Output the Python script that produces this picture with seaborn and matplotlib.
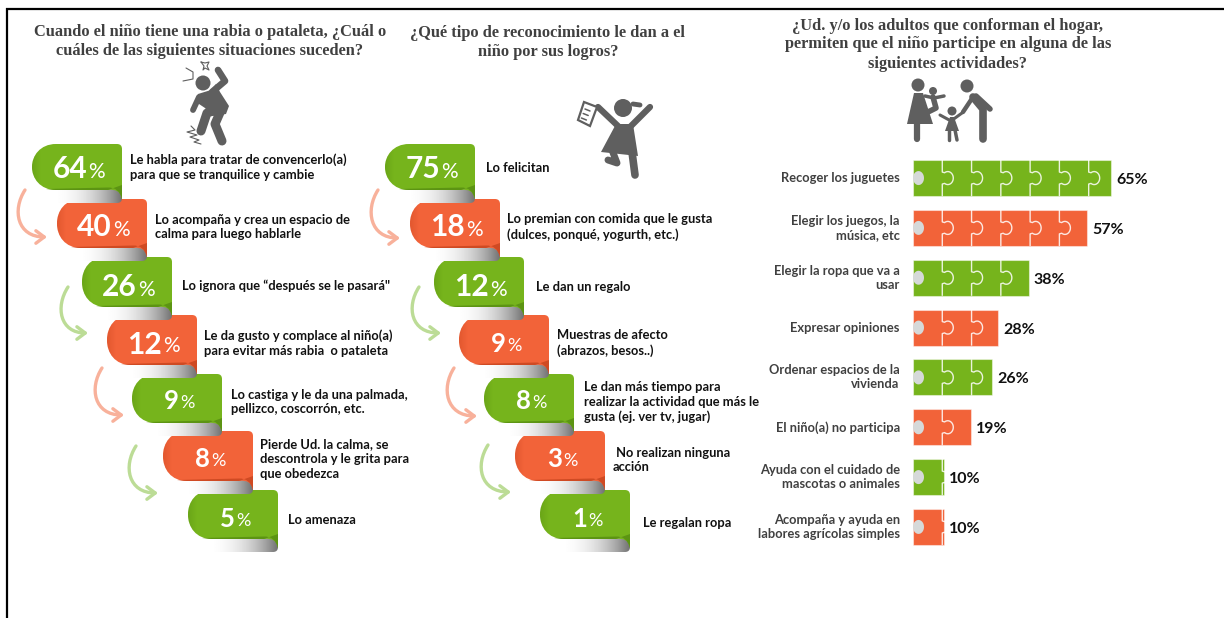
import numpy as np
import pandas as pd
import seaborn as sns
import matplotlib.pyplot as plt
from matplotlib.path import Path
from matplotlib.patches import PathPatch, Circle, Polygon, FancyArrowPatch

GREEN = '#76b41c'
ORANGE = '#f26339'
DARK_GREEN = '#5c9413'
DARK_ORANGE = '#cf4a23'
ICON = '#5f5f5f'

title_1 = 'Cuando el niño tiene una rabia o pataleta, ¿Cuál o\ncuáles de las siguientes situaciones suceden?'
title_2 = '¿Qué tipo de reconocimiento le dan a el\nniño por sus logros?'
title_3 = '¿Ud. y/o los adultos que conforman el hogar,\npermiten que el niño participe en alguna de las\nsiguientes actividades?'

rabia_values = [64, 40, 26, 12, 9, 8, 5]
rabia_labels = ['Le habla para tratar de convencerlo(a)\npara que se tranquilice y cambie',
                'Lo acompaña y crea un espacio de\ncalma para luego hablarle',
                'Lo ignora que “después se le pasará"',
                'Le da gusto y complace al niño(a)\npara evitar más rabia  o pataleta',
                'Lo castiga y le da una palmada,\npellizco, coscorrón, etc.',
                'Pierde Ud. la calma, se\ndescontrola y le grita para\nque obedezca',
                'Lo amenaza']

logros_values = [75, 18, 12, 9, 8, 3, 1]
logros_labels = ['Lo felicitan',
                 'Lo premian con comida que le gusta\n(dulces, ponqué, yogurth, etc.)',
                 'Le dan un regalo',
                 'Muestras de afecto\n(abrazos, besos..)',
                 'Le dan más tiempo para\nrealizar la actividad que más le\ngusta (ej. ver tv, jugar)',
                 ' No realizan ninguna\nacción',
                 'Le regalan ropa']

actividades = ['Recoger los juguetes', 'Elegir los juegos, la\nmúsica, etc', 'Elegir la ropa que va a\nusar',
               'Expresar opiniones', 'Ordenar espacios de la\nvivienda', 'El niño(a) no participa',
               'Ayuda con el cuidado de\nmascotas o animales', 'Acompaña y ayuda en\nlabores agrícolas simples']
actividades_values = [65, 57, 38, 28, 26, 19, 10, 10]

# layout of the stairs, in pixels of the picture
rib_top = [144, 199, 257, 315, 374, 431, 490]
rib_bottom = [190, 248, 307, 365, 423, 481, 539]
rib_num_y = [168, 226, 286, 343, 400, 458, 518]
rib_left_1 = [32, 57, 82, 107, 132, 163, 188]
rib_left_2 = [385, 410, 434, 459, 484, 515, 540]
text_x_1 = [130, 155, 182, 204, 231, 260, 288]
text_y_1 = [167, 227, 286, 343, 402, 459, 520]
text_x_2 = [486, 507, 536, 557, 584, 613, 643]
text_y_2 = [168, 227, 287, 343, 402, 460, 523]
arrows_1 = [(25, 190, 47, 237), (68, 287, 88, 333), (102, 368, 124, 415), (136, 446, 158, 493)]
arrows_2 = [(378, 190, 400, 238), (419, 287, 441, 333), (454, 368, 477, 416), (488, 445, 511, 492)]

sns.set_theme(style='white')
plt.rcParams['font.family'] = ['Lato', 'DejaVu Sans']

fig = plt.figure(figsize=(12.24, 6.18), dpi=100)

# right panel: the only part with a real scale
ax = fig.add_axes([913 / 1224, 1 - 551.85 / 618, 213.5 / 1224, 398.7 / 618])
df = pd.DataFrame({'actividad': actividades, 'valor': actividades_values})
colors = [GREEN if i % 2 == 0 else ORANGE for i in range(len(actividades))]
sns.barplot(data=df, x='valor', y='actividad', hue='actividad', palette=colors, saturation=1,
            width=0.725, dodge=False, legend=False, ax=ax)
ax.set_xlim(0, 70)
ax.set_xlabel('')
ax.set_ylabel('')
ax.set_xticks([])
ax.tick_params(axis='y', length=0, pad=9.5)
sns.despine(ax=ax, left=True, bottom=True)
for lab in ax.get_yticklabels():
    lab.set_fontsize(9.25)
    lab.set_fontweight('bold')
    lab.set_color('#404040')
    lab.set_linespacing(1.2)
    lab.set_verticalalignment('center')
for bar in ax.patches:
    if bar.get_width() > 0:
        ax.annotate(f'{bar.get_width():g}%', (bar.get_width(), bar.get_y() + bar.get_height() / 2), xytext=(3.6, -1.4),
                    textcoords='offset points', va='center', ha='left', fontsize=11.5, fontweight='bold', color='#111111')
    bar.set_edgecolor((1, 1, 1, 0.45))
    bar.set_linewidth(0.8)

# puzzle cuts over the bars
px_x = 70 / 213.5
px_y = 8 / 398.7
for i, v in enumerate(actividades_values):
    t = np.linspace(np.radians(-125), np.radians(125), 30)
    for d in np.arange(9.6, v, 9.6):
        xs = d + px_x * (5.5 + 5.5 * np.cos(t))
        ys = i + px_y * 6.5 * np.sin(t)
        xs = np.r_[d, d, xs, d, d]
        ys = np.r_[i - 0.3625, i - px_y * 6, ys, i + px_y * 6, i + 0.3625]
        ax.plot(xs, ys, color='white', lw=1.0, alpha=0.85, solid_capstyle='butt')
    t = np.linspace(0, 2 * np.pi, 40)
    ax.fill(px_x * (5.5 + 5.5 * np.cos(t)), i + px_y * 7 * np.sin(t), color='#d6d9d9', lw=0)
ax.set_ylim(7.5, -0.5)

# overlay in picture pixels for everything else
ov = fig.add_axes([0, 0, 1, 1], facecolor='none')
ov.set_xlim(0, 1224)
ov.set_ylim(618, 0)
ov.axis('off')


def ribbon(x0, top, bottom, num_y, value, color, dark, label, tx, ty, z):
    x1 = x0 + 90
    mid = (top + bottom) / 2
    body = Path([(x1 - 5, top), (x1, top), (x1, top + 5), (x1, bottom + 9), (x1 - 2, bottom - 2), (x1 - 14, bottom),
                 (x0 + 24, bottom), (x0 + 8, bottom), (x0, bottom - 12), (x0, mid), (x0, top + 12), (x0 + 8, top),
                 (x0 + 24, top), (x1 - 5, top)],
                [Path.MOVETO, Path.CURVE3, Path.CURVE3, Path.LINETO, Path.CURVE3, Path.CURVE3, Path.LINETO,
                 Path.CURVE4, Path.CURVE4, Path.CURVE4, Path.CURVE4, Path.CURVE4, Path.CURVE4, Path.LINETO])
    # grey underside of the fold
    tail = Path([(x0 + 18, bottom - 2), (x1, bottom - 2), (x1, bottom + 8), (x1, bottom + 13), (x1 - 5, bottom + 13),
                 (x0 + 18, bottom + 13), (x0 + 18, bottom - 2)],
                [Path.MOVETO, Path.LINETO, Path.LINETO, Path.CURVE3, Path.CURVE3, Path.LINETO, Path.CLOSEPOLY])
    h = np.linspace(0, 1, 80)
    g = 1 - 0.55 * h ** 2.2
    im = ov.imshow(g[None, :], cmap='gray', vmin=0, vmax=1, aspect='auto', interpolation='bilinear',
                   extent=(x0 + 18, x1, bottom + 13, bottom - 2), zorder=z)
    im.set_clip_path(PathPatch(tail, transform=ov.transData))
    p = PathPatch(body, facecolor=color, edgecolor='none', zorder=z + 0.1)
    ov.add_patch(p)
    # darker lip on the bottom edge and the flap
    lip = Path([(x0 + 14, bottom - 1), (x1 - 14, bottom - 2.5), (x1 - 3, bottom - 3), (x1, bottom + 9), (x1, bottom - 5),
                (x1 - 14, bottom), (x0 + 24, bottom), (x0 + 14, bottom - 1)],
               [Path.MOVETO, Path.LINETO, Path.CURVE3, Path.CURVE3, Path.LINETO, Path.LINETO, Path.LINETO, Path.CLOSEPOLY])
    ov.add_patch(PathPatch(lip, facecolor=dark, edgecolor='none', zorder=z + 0.2))
    shade = np.zeros((1, 40, 4))
    shade[..., :3] = plt.matplotlib.colors.to_rgb(dark)
    shade[..., 3] = np.linspace(0.45, 0, 40)
    im2 = ov.imshow(shade, aspect='auto', interpolation='bilinear', extent=(x0, x0 + 9, bottom, top), zorder=z + 0.15)
    im2.set_clip_path(PathPatch(body, transform=ov.transData))

    two = value >= 10
    base = x0 + (55 if two else 47)
    ov.text(base, num_y + (10.5 if two else 9), str(value), ha='right', va='baseline', color='white',
            fontsize=21.5 if two else 18.5, fontweight='bold', zorder=z + 0.3)
    ov.text(base + 1, num_y + (9.5 if two else 8), '%', ha='left', va='baseline', color='white',
            fontsize=15 if two else 13, zorder=z + 0.3)
    ov.text(tx, ty, label, ha='left', va='center', color='#111111', fontsize=9.3, fontweight='bold',
            linespacing=1.25, zorder=z + 0.3)


def stairs(lefts, values, labels, tx, ty, arrows):
    for i in range(len(values)):
        odd = i % 2 == 1
        ribbon(lefts[i], rib_top[i], rib_bottom[i], rib_num_y[i], values[i], ORANGE if odd else GREEN,
               DARK_ORANGE if odd else DARK_GREEN, labels[i], tx[i], ty[i], 30 - 2 * i)
    for k, (xa, ya, xb, yb) in enumerate(arrows):
        path = Path([(xa, ya), (xa - 13, ya + 20), (xa - 8, yb), (xb, yb)], [Path.MOVETO, Path.CURVE4, Path.CURVE4, Path.CURVE4])
        ov.add_patch(FancyArrowPatch(path=path, arrowstyle='->,head_length=6,head_width=4.5',
                                     color='#f8b19b' if k % 2 == 0 else '#bcdc96', lw=2.4, capstyle='round', zorder=5))


stairs(rib_left_1, rabia_values, rabia_labels, text_x_1, text_y_1, arrows_1)
stairs(rib_left_2, logros_values, logros_labels, text_x_2, text_y_2, arrows_2)

# titles
for txt, x, y in [(title_1, 210, 41.5), (title_2, 548, 42.5), (title_3, 948, 44.5)]:
    ov.text(x, y, txt, ha='center', va='center', family='Liberation Serif', fontweight='bold', fontsize=11.75,
            color='#404040', linespacing=1.25)


def limb(points, w=4.2):
    pts = np.array(points)
    ov.plot(pts[:, 0], pts[:, 1], color=ICON, lw=w, solid_capstyle='round', solid_joinstyle='round', zorder=4)


def head(x, y, r):
    ov.add_patch(Circle((x, y), r, color=ICON, lw=0, zorder=4))


def body(points):
    ov.add_patch(Polygon(points, closed=True, color=ICON, lw=0, zorder=4))


# tantrum kid
head(203, 83, 7.5)
body([(198, 94), (211, 90), (216, 84), (220, 92), (229, 106), (226, 114), (212, 116), (205, 108), (199, 104)])
limb([(212, 92), (225, 81), (218, 70)], 4.8)
limb([(199, 97), (193, 110)], 4.2)
limb([(222, 108), (207, 113), (201, 131)], 6.5)
limb([(222, 108), (215, 124), (222, 141)], 6.5)
ov.plot([186, 193, 193, 183], [68, 72, 79, 81], color=ICON, lw=0.8, zorder=4)
ov.plot([191, 195, 187, 197, 190, 199, 194, 201], [126, 130, 132, 135, 137, 140, 142, 144], color=ICON, lw=0.8, zorder=4)
ov.plot([201, 205, 209, 207, 209, 205, 203, 204, 201], [62, 63, 62, 66, 70, 68, 70, 66, 62], color=ICON, lw=0.8, zorder=4)

# girl with the report
head(623, 108, 9)
limb([(633, 104), (640, 105)], 3.5)
body([(616, 124), (633, 124), (638, 156), (601, 152)])
limb([(618, 126), (598, 107)], 4.5)
limb([(631, 126), (650, 107)], 4.5)
limb([(632, 152), (635, 175)], 5.5)
limb([(612, 150), (617, 163), (608, 160)], 5)
ov.add_patch(Polygon([(584, 102), (597, 107), (590, 126), (578, 120)], closed=True, facecolor='white', edgecolor=ICON, lw=1.6, zorder=4))
for dy in (0, 4.5, 9):
    ov.plot([585 - dy * 0.4, 590 - dy * 0.4], [109 + dy, 111 + dy], color=ICON, lw=1.1, zorder=5)

# family
head(918, 85, 6.5)
body([(914, 93), (923, 93), (933, 124), (907, 124)])
limb([(917, 122), (917, 139)], 4.5)
head(933, 91, 4)
limb([(925, 96), (934, 98), (944, 96)], 2.5)
limb([(933, 97), (936, 108), (928, 112)], 4)
head(952, 111, 4.5)
limb([(940, 115), (951, 121), (962, 113)], 2.2)
body([(950, 117), (954, 117), (959, 131), (945, 131)])
limb([(949, 130), (949, 140)], 2.5)
limb([(955, 130), (957, 140)], 2.5)
limb([(963, 112), (973, 97)], 3.2)
head(967, 86, 6.5)
limb([(973, 97), (983, 109), (983, 139)], 5.5)
limb([(976, 96), (990, 109)], 4)

# frame of the slide, only top and left
ov.plot([6, 1224], [9, 9], color='black', lw=1.6, zorder=50, solid_capstyle='butt')
ov.plot([7, 7], [8, 618], color='black', lw=1.6, zorder=50, solid_capstyle='butt')

fig.savefig('out.png', dpi=100, facecolor='white')
